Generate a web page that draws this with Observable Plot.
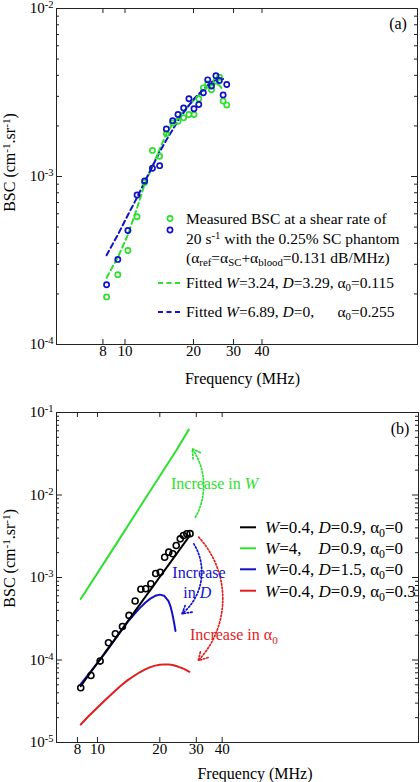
<!DOCTYPE html>
<html><head><meta charset="utf-8">
<script src="https://cdn.jsdelivr.net/npm/d3@7"></script>
<script src="https://cdn.jsdelivr.net/npm/@observablehq/plot@0.6"></script>
<style>
body{margin:0;background:#fff;}
#chart{width:420px;}
svg{display:block;}
#chart svg text, #chart svg tspan{font-family:"Liberation Serif", "Times New Roman", serif !important;}
</style></head><body><div id="chart"></div>
<script>
// ---------- Panel (a) data ----------
const freqA = [8.3, 9.3, 10.3, 11.3, 12.2, 13.2, 14.2, 15.2, 16.2, 17.1, 18.1, 19.1, 20.1, 21.1, 22.1, 23.1, 24.0, 25.1, 26.0, 27.0, 28.0];
const bscGreenA = [1.92e-4, 2.60e-4, 3.63e-4, 5.76e-4, 9.2e-4, 1.43e-3, 1.32e-3, 1.80e-3, 2.08e-3, 2.13e-3, 2.24e-3, 2.34e-3, 2.34e-3, 2.90e-3, 3.37e-3, 3.55e-3, 3.28e-3, 3.70e-3, 3.90e-3, 2.81e-3, 2.66e-3];
const bscBlueA = [2.27e-4, 3.21e-4, 4.77e-4, 7.76e-4, 9.4e-4, 1.12e-3, 1.16e-3, 1.92e-3, 2.15e-3, 2.34e-3, 2.56e-3, 2.90e-3, 2.53e-3, 2.68e-3, 3.15e-3, 3.76e-3, 3.46e-3, 3.98e-3, 3.73e-3, 3.06e-3, 3.53e-3];
const fitFreqA = [8.3, 9.3, 10.3, 11.3, 12.2, 13.2, 14.2, 15.2, 16.2, 17.1, 18.1, 19.1, 20.1, 21.1, 22.1, 23.1, 24.0, 25.1, 26.0, 27.0];
const fitGreenA = [2.5e-4, 3.3e-4, 4.5e-4, 6.5e-4, 9.0e-4, 1.15e-3, 1.45e-3, 1.8e-3, 2.05e-3, 2.25e-3, 2.45e-3, 2.65e-3, 2.85e-3, 3.05e-3, 3.25e-3, 3.4e-3, 3.5e-3, 3.55e-3, 3.5e-3, 3.25e-3];
const fitBlueA = [3.4e-4, 4.5e-4, 5.9e-4, 7.5e-4, 9.3e-4, 1.15e-3, 1.4e-3, 1.65e-3, 1.9e-3, 2.15e-3, 2.4e-3, 2.65e-3, 2.9e-3, 3.1e-3, 3.3e-3, 3.5e-3, 3.65e-3, 3.75e-3, 3.8e-3, 3.8e-3];

// ---------- Panel (b) data ----------
const freqB = [8.3, 9.3, 10.3, 11.3, 12.2, 13.2, 14.2, 15.2, 16.2, 17.1, 18.1, 19.1, 20.1, 21.1, 22.1, 23.1, 24.0, 25.1, 26.0, 27.0, 28.0];
const bscMeasB = [4.6e-5, 6.5e-5, 9.7e-5, 1.62e-4, 2.08e-4, 2.55e-4, 3.47e-4, 5.2e-4, 7.2e-4, 7.3e-4, 8.4e-4, 1.12e-3, 1.16e-3, 1.76e-3, 2.03e-3, 1.94e-3, 2.44e-3, 2.94e-3, 3.23e-3, 3.39e-3, 3.4e-3];
const curveFreqB = [8.3, 9, 10, 11, 12, 13, 14, 15, 16, 17, 18, 19, 20, 21, 22, 23, 24, 25, 26, 27, 28];
const blackB = [4.8e-5, 6.4e-5, 9.2e-5, 1.28e-4, 1.72e-4, 2.27e-4, 2.95e-4, 3.75e-4, 4.68e-4, 5.8e-4, 7.04e-4, 8.5e-4, 1.02e-3, 1.2e-3, 1.41e-3, 1.65e-3, 1.91e-3, 2.2e-3, 2.52e-3, 2.88e-3, 3.26e-3];
const greenFreqB = [8.3, 12, 16, 20, 24, 27.6];
const greenB = [5.5e-4, 2.3e-3, 7.1e-3, 1.7e-2, 3.46e-2, 6.2e-2];
const blueFreqB = [8.3, 9, 10, 11, 12, 13, 14, 15, 16, 17, 18, 19, 20, 21, 22, 22.5, 23, 23.4, 23.8];
const blueB = [5.1e-5, 6.6e-5, 9.2e-5, 1.25e-4, 1.7e-4, 2.25e-4, 2.9e-4, 3.55e-4, 4.25e-4, 4.95e-4, 5.55e-4, 6.0e-4, 6.2e-4, 6.0e-4, 5.2e-4, 4.5e-4, 3.6e-4, 2.9e-4, 2.25e-4];
const redFreqB = [8.3, 9, 10, 11, 12, 13, 14, 15, 16, 17, 18, 19, 20, 21, 22, 23, 24, 25, 26, 27, 27.8];
const redB = [1.65e-5, 2.05e-5, 2.65e-5, 3.35e-5, 4.1e-5, 4.9e-5, 5.7e-5, 6.4e-5, 7.1e-5, 7.7e-5, 8.2e-5, 8.55e-5, 8.75e-5, 8.85e-5, 8.85e-5, 8.7e-5, 8.45e-5, 8.15e-5, 7.85e-5, 7.5e-5, 7.2e-5];
// annotation arrows (W, D, alpha0): start and end in data space
const arrowFreqStart = [29.7, 29.2, 30.8];
const arrowBscStart = [5.38e-3, 2.56e-3, 3.08e-3];
const arrowFreqEnd = [28.7, 25.6, 30.7];
const arrowBscEnd = [3.63e-2, 3.63e-4, 9.86e-5];

// ---------- tick labels / texts ----------
const xTickValues = [8, 10, 20, 30, 40];
const legendA = ["Measured BSC at a shear rate of", "20 s^{-1} with the 0.25% SC phantom", "(α_{ref}=α_{SC}+α_{blood}=0.131 dB/MHz)"];
const fitLabelsA = ["Fitted *W*=3.24, *D*=3.29, α_{0}=0.115", "Fitted *W*=6.89, *D*=0,      α_{0}=0.255"];
const legendB = ["*W*=0.4, *D*=0.9, α_{0}=0", "*W*=4,    *D*=0.9, α_{0}=0", "*W*=0.4, *D*=1.5, α_{0}=0", "*W*=0.4, *D*=0.9, α_{0}=0.3"];

const FONT = "'Liberation Serif', 'Times New Roman', serif";
const GREEN = "#2ee02e", BLUE = "#1212c8", RED = "#e01e1e", BLACK = "#000";
const colorsB = [BLACK, GREEN, BLUE, RED];

function rich(node, str, size) {
  const sel = d3.select(node);
  sel.text(null).style("white-space", "pre");
  let italic = false, buf = "";
  const parts = [];
  const flush = () => { if (buf) { parts.push({t: buf, it: italic}); buf = ""; } };
  for (let i = 0; i < str.length; i++) {
    const c = str[i];
    if ((c === "^" || c === "_") && str[i + 1] === "{") {
      flush();
      const j = str.indexOf("}", i);
      parts.push({t: str.slice(i + 2, j), it: italic, s: c});
      i = j; continue;
    }
    if (c === "*") { flush(); italic = !italic; continue; }
    buf += c;
  }
  flush();
  for (const p of parts) {
    const ts = sel.append("tspan").text(p.t);
    if (p.it) ts.attr("font-style", "italic");
    if (p.s) ts.attr("font-size", (size * 0.7).toFixed(1) + "px")
               .attr("baseline-shift", (p.s === "^" ? size * 0.33 : -size * 0.22).toFixed(1) + "px");
  }
}

function addText(svg, str, x, y, {anchor = "start", fill = BLACK, size = 16, rotate = 0} = {}) {
  const t = d3.select(svg).append("text")
    .attr("transform", `translate(${x},${y})` + (rotate ? ` rotate(${rotate})` : ""))
    .attr("text-anchor", anchor).attr("dy", "0.35em").attr("fill", fill)
    .attr("font-size", size + "px").attr("font-family", FONT);
  rich(t.node(), str, size);
}
function addLine(svg, x1, x2, y, color, dash) {
  d3.select(svg).append("line").attr("x1", x1).attr("x2", x2).attr("y1", y).attr("y2", y)
    .attr("stroke", color).attr("stroke-width", 2).attr("stroke-dasharray", dash || null);
}

function frameMarks(yDomain, frameW, frameH) {
  const yAll = d3.scaleLog().domain(yDomain).ticks();
  const isMajor = d => Math.abs(Math.log10(d) - Math.round(Math.log10(d))) < 1e-9;
  const yMajor = yAll.filter(isMajor), yMinor = yAll.filter(d => !isMajor(d));
  const st = {stroke: "#222", strokeWidth: 1};
  return [
    Plot.frame({stroke: "#222"}),
    Plot.tickX(xTickValues, {x: d => d, insetTop: frameH - 5, ...st}),
    Plot.tickX(xTickValues, {x: d => d, insetBottom: frameH - 5, ...st}),
    Plot.tickY(yMajor, {y: d => d, insetRight: frameW - 6, ...st}),
    Plot.tickY(yMajor, {y: d => d, insetLeft: frameW - 6, ...st}),
    Plot.tickY(yMinor, {y: d => d, insetRight: frameW - 3, ...st}),
    Plot.tickY(yMinor, {y: d => d, insetLeft: frameW - 3, ...st}),
    Plot.text(xTickValues, {x: d => d, frameAnchor: "bottom", dy: 11, text: d => String(d), fontSize: 15, fill: BLACK}),
    Plot.axisY(yMajor, {anchor: "left", tickSize: 0, tickPadding: 3, tickFormat: d => `10^{${Math.round(Math.log10(d))}}`, label: null})
  ];
}
function postRich(svg, size) {
  d3.select(svg).selectAll("text").each(function () {
    const s = this.textContent;
    if (/[\^_]\{|\*/.test(s)) rich(this, s, size);
  });
}

// ---------- Plot (a) ----------
const plotA = Plot.plot({
  width: 420, height: 392,
  marginTop: 8, marginBottom: 48, marginLeft: 56, marginRight: 3,
  x: {type: "log", domain: [5, 193], axis: null},
  y: {type: "log", domain: [1e-4, 1e-2]},
  style: {fontFamily: FONT, fontSize: "15px", color: "#000", background: "#fff"},
  marks: [
    ...frameMarks([1e-4, 1e-2], 361, 336),
    Plot.line(fitGreenA, {x: fitFreqA, y: fitGreenA, stroke: GREEN, strokeWidth: 2, strokeDasharray: "5,3.5"}),
    Plot.line(fitBlueA, {x: fitFreqA, y: fitBlueA, stroke: BLUE, strokeWidth: 2, strokeDasharray: "5,3.5"}),
    Plot.dot(bscGreenA, {x: freqA, y: bscGreenA, r: 2.6, stroke: GREEN, strokeWidth: 1.7, fill: "none"}),
    Plot.dot(bscBlueA, {x: freqA, y: bscBlueA, r: 2.6, stroke: BLUE, strokeWidth: 1.7, fill: "none"})
  ]
});
postRich(plotA, 15);
// legend (a)
d3.select(plotA).append("circle").attr("cx", 170).attr("cy", 218.5).attr("r", 2.6).attr("fill", "none").attr("stroke", GREEN).attr("stroke-width", 1.7);
d3.select(plotA).append("circle").attr("cx", 170).attr("cy", 230).attr("r", 2.6).attr("fill", "none").attr("stroke", BLUE).attr("stroke-width", 1.7);
legendA.forEach((s, i) => addText(plotA, s, 186, 218.5 + i * 19.7, {size: 15.5}));
addLine(plotA, 158, 180, 283, GREEN, "5,3.5");
addLine(plotA, 158, 180, 312, BLUE, "5,3.5");
addText(plotA, fitLabelsA[0], 186, 283, {size: 15.5});
addText(plotA, fitLabelsA[1], 186, 312, {size: 15.5});
addText(plotA, "(a)", 398, 23, {anchor: "middle"});
addText(plotA, "Frequency (MHz)", 242.5, 378, {anchor: "middle"});
addText(plotA, "BSC (cm^{-1}.sr^{-1})", 9, 162.5, {anchor: "middle", rotate: -90});

// ---------- Plot (b) ----------
const arrowBase = {strokeWidth: 1.7, strokeDasharray: "1.5,2", headLength: 9};
const arrowMark = (i, color, bend) => Plot.arrow([i], {
  x1: j => arrowFreqStart[j], y1: j => arrowBscStart[j], x2: j => arrowFreqEnd[j], y2: j => arrowBscEnd[j],
  ...arrowBase, stroke: color, bend
});
const plotB = Plot.plot({
  width: 420, height: 390,
  marginTop: 20, marginBottom: 40, marginLeft: 56, marginRight: 2,
  x: {type: "log", domain: [6.34, 355], axis: null},
  y: {type: "log", domain: [1e-5, 1e-1]},
  style: {fontFamily: FONT, fontSize: "15px", color: "#000", background: "#fff"},
  marks: [
    ...frameMarks([1e-5, 1e-1], 362, 330),
    Plot.line(greenB, {x: greenFreqB, y: greenB, stroke: GREEN, strokeWidth: 2}),
    Plot.line(redB, {x: redFreqB, y: redB, stroke: RED, strokeWidth: 2}),
    Plot.line(blueB, {x: blueFreqB, y: blueB, stroke: BLUE, strokeWidth: 2}),
    Plot.line(blackB, {x: curveFreqB, y: blackB, stroke: BLACK, strokeWidth: 2}),
    Plot.dot(bscMeasB, {x: freqB, y: bscMeasB, r: 3, stroke: BLACK, strokeWidth: 1.6, fill: "none"}),
    arrowMark(0, GREEN, -32),
    arrowMark(1, BLUE, 41),
    arrowMark(2, RED, 43)
  ]
});
postRich(plotB, 15);
const oB = 392; // page offset of panel (b)
legendB.forEach((s, i) => {
  const y = [527.3, 548.3, 569.3, 590.7][i] - oB;
  addLine(plotB, 240, 256, y, colorsB[i]);
  addText(plotB, s, 265, y, {size: 17});
});
addText(plotB, "(b)", 400, 428 - oB, {anchor: "middle"});
addText(plotB, "Increase in *W*", 171, 483.3 - oB, {fill: GREEN});
addText(plotB, "Increase", 172.3, 572.7 - oB, {fill: BLUE});
addText(plotB, "in *D*", 183.3, 592.7 - oB, {fill: BLUE});
addText(plotB, "Increase in α_{0}", 190, 634.3 - oB, {fill: RED});
addText(plotB, "Frequency (MHz)", 255, 773.3 - oB, {anchor: "middle"});
addText(plotB, "BSC (cm^{-1}.sr^{-1})", 9, 558.3 - oB, {anchor: "middle", rotate: -90});

document.getElementById("chart").append(plotA, plotB);
</script></body></html>
